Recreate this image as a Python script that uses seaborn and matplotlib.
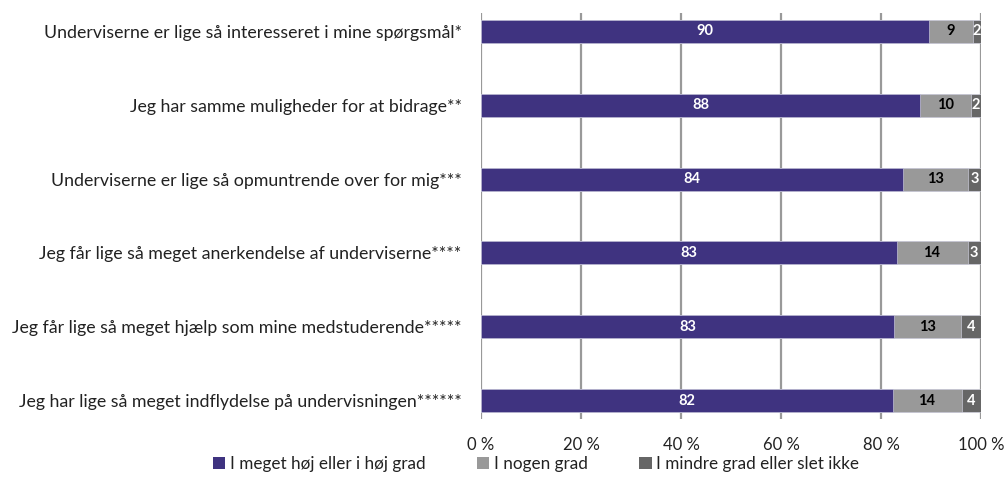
import matplotlib
matplotlib.use("Agg")
import matplotlib.pyplot as plt
from matplotlib.patches import Patch
import numpy as np
import pandas as pd
import seaborn as sns

STATEMENTS = [
    "Underviserne er lige så interesseret i mine spørgsmål*",
    "Jeg har samme muligheder for at bidrage**",
    "Underviserne er lige så opmuntrende over for mig***",
    "Jeg får lige så meget anerkendelse af underviserne****",
    "Jeg får lige så meget hjælp som mine medstuderende*****",
    "Jeg har lige så meget indflydelse på undervisningen******",
]
HIGH = [89.6, 87.8, 84.3, 83.1, 82.6, 82.3]
SOME = [8.7, 10.1, 13.1, 14.2, 13.4, 13.8]
LOW = [1.7, 2.1, 2.6, 2.7, 4.0, 3.9]

SERIES = ["I meget høj eller i høj grad", "I nogen grad", "I mindre grad eller slet ikke"]
COLORS = ["#3f3380", "#999999", "#666666"]
TEXT_COLORS = ["white", "black", "white"]
TICKS = [0, 20, 40, 60, 80, 100]

sns.set_theme(style="white")
plt.rcParams["font.family"] = ["Lato", "DejaVu Sans"]

df = pd.DataFrame({"statement": STATEMENTS, "high": HIGH, "some": SOME, "low": LOW})
df["c1"] = df["high"]
df["c2"] = df["high"] + df["some"]
df["c3"] = df["c2"] + df["low"]

fig = plt.figure(figsize=(10.07, 4.99), dpi=100)
ax = fig.add_axes([481 / 1007, 80 / 499, 500 / 1007, 406 / 499])

# draw cumulative totals back to front so they look stacked
for col, color in zip(["c3", "c2", "c1"], COLORS[::-1]):
    sns.barplot(data=df, y="statement", x=col, orient="h", color=color,
                width=0.31, saturation=1, edgecolor="#d8d8e8", linewidth=0.4,
                ax=ax, zorder=3)

for i, row in df.iterrows():
    starts = [0, row["c1"], row["c2"]]
    vals = [row["high"], row["some"], row["low"]]
    for s, v, tc in zip(starts, vals, TEXT_COLORS):
        ax.text(s + v / 2, i, f"{v:.0f}", ha="center", va="center",
                color=tc, fontsize=10.5, fontweight="bold", zorder=5)

ax.set_xlim(0, 100)
ax.set_ylim(5.25, -0.25)
ax.set_xticks(TICKS)
ax.set_xticklabels([f"{t} %" for t in TICKS], fontsize=12, color="#222222")
ax.tick_params(axis="y", labelsize=12.8, pad=14, length=0, labelcolor="#222222")
ax.tick_params(axis="x", pad=13, length=0)
ax.set_xlabel("")
ax.set_ylabel("")
ax.xaxis.grid(True, color="#999999", linewidth=1.6, zorder=0)
ax.set_axisbelow(True)
for sp in ax.spines.values():
    sp.set_visible(False)

handles = [Patch(facecolor=c, edgecolor="none") for c in COLORS]
fig.legend(handles, SERIES, loc="center", bbox_to_anchor=(0.532, 0.07), ncol=3,
           frameon=False, fontsize=12.3, handlelength=0.75, handleheight=0.75,
           handletextpad=0.25, columnspacing=3.0, labelcolor="#222222")

fig.savefig("out.png", dpi=100)
